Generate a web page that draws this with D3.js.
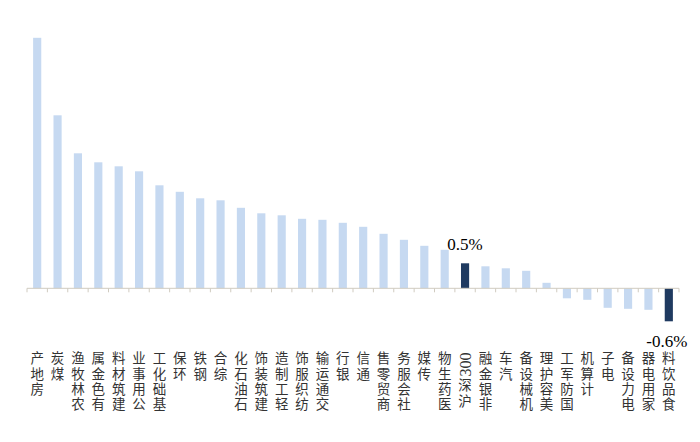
<!DOCTYPE html>
<html>
<head>
<meta charset="utf-8">
<script src="https://cdn.jsdelivr.net/npm/d3@7"></script>
<style>
  body { margin: 0; background: #fff; }
  svg { display: block; }
</style>
</head>
<body>
<svg id="chart" width="700" height="442"></svg>
<script>
// industry names, sorted by return
const categories = [
  "房地产", "煤炭", "农林牧渔", "有色金属", "建筑材料", "公用事业", "基础化工", "环保",
  "钢铁", "综合", "石油石化", "建筑装饰", "轻工制造", "纺织服饰", "交通运输", "银行",
  "通信", "商贸零售", "社会服务", "传媒", "医药生物", "沪深300", "非银金融", "汽车",
  "机械设备", "美容护理", "国防军工", "计算机", "电子", "电力设备", "家用电器", "食品饮料"
];
// weekly return, %
const values = [
  5.01, 3.46, 2.70, 2.52, 2.44, 2.34, 2.06, 1.93,
  1.80, 1.76, 1.61, 1.50, 1.46, 1.39, 1.37, 1.31,
  1.23, 1.09, 0.97, 0.85, 0.77, 0.50, 0.44, 0.40,
  0.35, 0.11, -0.20, -0.23, -0.39, -0.41, -0.43, -0.66
];
const highlighted = ["沪深300", "食品饮料"];
const valueLabels = { "沪深300": "0.5%", "食品饮料": "-0.6%" };

const data = categories.map((c, i) => ({ name: c, value: values[i] }));

const svg = d3.select("#chart");

const x = d3.scaleBand()
  .domain(categories)
  .range([27, 679])
  .paddingInner(0.6)
  .paddingOuter(0.3);

const y = d3.scaleLinear()
  .domain([-0.8, 5.2])
  .range([328.3, 28.3]);

// bars
svg.append("g")
  .selectAll("rect")
  .data(data)
  .join("rect")
  .attr("x", d => x(d.name))
  .attr("width", x.bandwidth())
  .attr("y", d => y(Math.max(0, d.value)))
  .attr("height", d => Math.abs(y(d.value) - y(0)))
  .attr("fill", d => highlighted.includes(d.name) ? "#1f3a60" : "#c6d9f1");

// axis line + ticks between categories
const step = x.step();
const axisG = svg.append("g");
axisG.append("line")
  .attr("x1", 27).attr("x2", 679)
  .attr("y1", y(0)).attr("y2", y(0))
  .attr("stroke", "#d0cbc0")
  .attr("stroke-width", 1);
axisG.selectAll("line.tick")
  .data(d3.range(categories.length + 1))
  .join("line")
  .attr("class", "tick")
  .attr("x1", i => 27 + i * step).attr("x2", i => 27 + i * step)
  .attr("y1", y(0)).attr("y2", y(0) + 4)
  .attr("stroke", "#d0cbc0")
  .attr("stroke-width", 1);

// value labels
svg.append("g")
  .selectAll("text")
  .data(data.filter(d => valueLabels[d.name]))
  .join("text")
  .attr("x", d => x(d.name) + x.bandwidth() / 2 + (d.value > 0 ? 0 : -2))
  .attr("y", d => d.value > 0 ? y(d.value) - 13 : y(d.value) + 26)
  .attr("text-anchor", "middle")
  .attr("font-family", "Liberation Serif, Times New Roman, serif")
  .attr("font-size", "17px")
  .attr("fill", "#000")
  .text(d => valueLabels[d.name]);

// category labels: upright CJK chars read bottom to top, digit runs rotated
const labelTop = 351.5;
const labelG = svg.append("g")
  .attr("fill", "#333");

categories.forEach(name => {
  const cx = x(name) + x.bandwidth() / 2;
  let top = labelTop;
  const digits = name.match(/[0-9]+$/);
  if (digits) {
    const txt = labelG.append("text")
      .attr("font-family", "Liberation Serif, serif")
      .attr("font-size", "16px")
      .attr("text-anchor", "end")
      .attr("dominant-baseline", "central")
      .attr("transform", `translate(${cx},${top + 1}) rotate(-90)`)
      .text(digits[0]);
    top += txt.node().getComputedTextLength() + 3;
  }
  const cjk = name.replace(/[0-9]+$/, "").split("").reverse().join("");
  labelG.append("text")
    .attr("x", cx)
    .attr("y", top)
    .attr("font-family", "Noto Sans CJK SC, sans-serif")
    .attr("font-size", "13.5px")
    .style("writing-mode", "vertical-rl")
    .style("text-orientation", "upright")
    .style("letter-spacing", "1.7px")
    .text(cjk);
});
</script>
</body>
</html>
